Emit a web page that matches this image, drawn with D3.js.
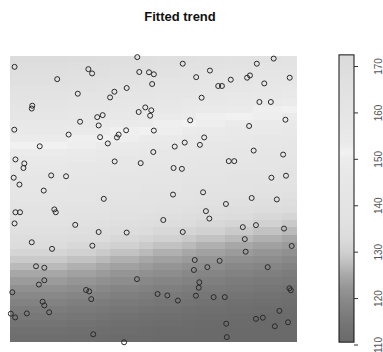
<!DOCTYPE html>
<html>
<head>
<meta charset="utf-8">
<script src="https://cdn.jsdelivr.net/npm/d3@7/dist/d3.min.js"></script>
<style>
  html, body { margin: 0; padding: 0; background: #ffffff; }
  svg { display: block; }
  text { font-family: "Liberation Sans", Arial, Helvetica, sans-serif; }
</style>
</head>
<body>
<div id="chart"></div>
<script>
// Fitted trend surface, rows run north (top) to south (bottom), 20 columns west to east.
const trendRows = [
  [170.4,170.4,170.4,170.4,169.7,169.7,169.1,168.4,168.4,167.7,167.0,167.0,166.3,165.6,165.6,164.8,164.8,163.9,163.9,163.1],
  [169.1,169.1,169.1,169.1,168.4,168.4,167.7,167.0,167.0,166.3,165.6,165.6,164.8,163.9,163.9,163.1,163.1,162.2,162.2,161.4],
  [167.7,167.7,167.7,167.7,167.0,167.0,166.3,165.6,165.6,164.8,163.9,163.9,163.1,162.2,162.2,161.4,161.4,160.6,160.6,159.8],
  [166.3,166.3,166.3,166.3,165.6,165.6,164.8,163.9,163.9,163.1,162.2,162.2,161.4,160.6,160.6,159.8,159.8,158.9,158.9,158.1],
  [164.8,164.8,164.8,164.8,163.9,163.9,163.1,162.2,162.2,161.4,160.6,160.6,159.8,158.9,158.9,158.1,158.1,157.3,157.3,156.4],
  [163.1,163.1,163.1,163.1,162.2,162.2,161.4,160.6,160.6,159.8,158.9,158.9,158.1,157.3,157.3,156.4,156.4,155.6,155.6,154.8],
  [161.4,161.4,161.4,161.4,160.6,160.6,159.8,158.9,158.9,158.1,157.3,157.3,156.4,155.6,155.6,154.8,154.8,153.9,153.9,153.0],
  [159.8,159.8,159.8,159.8,158.9,158.9,158.1,157.3,157.3,156.4,155.6,155.6,154.8,153.9,153.9,153.0,153.0,152.1,152.1,151.3],
  [158.1,158.1,158.1,158.1,157.3,157.3,156.4,155.6,155.6,154.8,153.9,153.9,153.0,152.1,152.1,151.3,151.3,150.4,150.4,149.6],
  [156.4,156.4,156.4,156.4,155.6,155.6,154.8,153.9,153.9,153.0,152.1,152.1,151.3,150.4,150.4,149.6,149.6,148.8,148.8,148.1],
  [154.8,154.8,154.8,154.8,153.9,153.9,153.0,152.1,152.1,151.3,150.4,150.4,149.6,148.8,148.8,148.1,148.1,147.4,147.4,146.7],
  [153.0,153.0,153.0,153.0,152.1,152.1,151.3,150.4,150.4,149.6,148.8,148.8,148.1,147.4,147.4,146.7,146.7,146.0,146.0,145.4],
  [151.3,151.3,151.3,151.3,150.4,150.4,149.6,148.8,148.8,148.1,147.4,147.4,146.7,146.0,146.0,145.4,145.4,144.8,144.8,144.2],
  [149.6,149.6,149.6,149.6,148.8,148.8,148.1,147.4,147.4,146.7,146.0,146.0,145.4,144.8,144.8,144.2,144.2,143.6,143.6,143.0],
  [148.1,148.1,148.1,148.1,147.4,147.4,146.7,146.0,146.0,145.4,144.8,144.8,144.2,143.6,143.6,143.0,143.0,142.4,142.4,141.8],
  [146.7,146.7,146.7,146.7,146.0,146.0,145.4,144.8,144.8,144.2,143.6,143.6,143.0,142.4,142.4,141.8,141.8,141.2,141.2,140.6],
  [145.4,145.4,145.4,145.4,144.8,144.8,144.2,143.6,143.6,143.0,142.4,142.4,141.8,141.2,141.2,140.6,140.6,140.0,140.0,139.4],
  [144.2,144.2,144.2,144.2,143.6,143.6,143.0,142.4,142.4,141.8,141.2,141.2,140.6,140.0,140.0,139.4,139.4,138.8,138.8,138.2],
  [143.0,143.0,143.0,143.0,142.4,142.4,141.8,141.2,141.2,140.6,140.0,140.0,139.4,138.8,138.8,138.2,138.2,137.6,137.6,137.0],
  [141.8,141.8,141.8,141.8,141.2,141.2,140.6,140.0,140.0,139.4,138.8,138.8,138.2,137.6,137.6,137.0,137.0,136.4,136.4,135.8],
  [140.6,140.6,140.6,140.6,140.0,140.0,139.4,138.8,138.8,138.2,137.6,137.6,137.0,136.4,136.4,135.8,135.8,135.1,135.1,134.4],
  [139.4,139.4,139.4,139.4,138.8,138.8,138.2,137.6,137.6,137.0,136.4,136.4,135.8,135.1,135.1,134.4,134.4,133.7,133.7,133.0],
  [138.2,138.2,138.2,138.2,137.6,137.6,137.0,136.4,136.4,135.8,135.1,135.1,134.4,133.7,133.7,133.0,133.0,132.1,132.1,131.2],
  [137.0,137.0,137.0,137.0,136.4,136.4,135.8,135.1,135.1,134.4,133.7,133.7,133.0,132.1,132.1,131.2,131.2,130.2,130.2,129.2],
  [135.8,135.8,135.8,135.8,135.1,135.1,134.4,133.7,133.7,133.0,132.1,132.1,131.2,130.2,130.2,129.2,129.2,128.1,128.1,127.0],
  [134.4,134.4,134.4,134.4,133.7,133.7,133.0,132.1,132.1,131.2,130.2,130.2,129.2,128.1,128.1,127.0,127.0,125.9,125.9,124.9],
  [133.0,133.0,133.0,133.0,132.1,132.1,131.2,130.2,130.2,129.2,128.1,128.1,127.0,125.9,125.9,124.9,124.9,123.9,123.9,123.0],
  [131.2,131.2,131.2,131.2,130.2,130.2,129.2,128.1,128.1,127.0,125.9,125.9,124.9,123.9,123.9,123.0,123.0,122.1,122.1,121.2],
  [129.2,129.2,129.2,129.2,128.1,128.1,127.0,125.9,125.9,124.9,123.9,123.9,123.0,122.1,122.1,121.2,121.2,120.4,120.4,119.5],
  [127.0,127.0,127.0,127.0,125.9,125.9,124.9,123.9,123.9,123.0,122.1,122.1,121.2,120.4,120.4,119.5,119.5,118.7,118.7,118.0],
  [124.9,124.9,124.9,124.9,123.9,123.9,123.0,122.1,122.1,121.2,120.4,120.4,119.5,118.7,118.7,118.0,118.0,117.3,117.3,116.6],
  [123.0,123.0,123.0,123.0,122.1,122.1,121.2,120.4,120.4,119.5,118.7,118.7,118.0,117.3,117.3,116.6,116.6,115.9,115.9,115.3],
  [121.2,121.2,121.2,121.2,120.4,120.4,119.5,118.7,118.7,118.0,117.3,117.3,116.6,115.9,115.9,115.3,115.3,114.7,114.7,114.2],
  [119.5,119.5,119.5,119.5,118.7,118.7,118.0,117.3,117.3,116.6,115.9,115.9,115.3,114.7,114.7,114.2,114.2,113.6,113.6,113.1],
  [118.0,118.0,118.0,118.0,117.3,117.3,116.6,115.9,115.9,115.3,114.7,114.7,114.2,113.6,113.6,113.1,113.1,112.6,112.6,112.1],
  [116.6,116.6,116.6,116.6,115.9,115.9,115.3,114.7,114.7,114.2,113.6,113.6,113.1,112.6,112.6,112.1,112.1,111.6,111.6,111.2],
  [115.3,115.3,115.3,115.3,114.7,114.7,114.2,113.6,113.6,113.1,112.6,112.6,112.1,111.6,111.6,111.2,111.2,111.0,111.0,110.8],
  [114.2,114.2,114.2,114.2,113.6,113.6,113.1,112.6,112.6,112.1,111.6,111.6,111.2,111.0,111.0,110.8,110.8,110.6,110.6,110.6],
  [113.1,113.1,113.1,113.1,112.6,112.6,112.1,111.6,111.6,111.2,111.0,111.0,110.8,110.6,110.6,110.6,110.6,110.6,110.6,110.6],
  [112.1,112.1,112.1,112.1,111.6,111.6,111.2,111.0,111.0,110.8,110.6,110.6,110.6,110.6,110.6,110.6,110.6,110.6,110.6,110.6]
];

// Sample locations (easting, northing) in 0-100 map units.
const siteX = [
  1.6,44.5,27.4,28.7,16.5,45.2,48.6,50.3,49.7,40.8,36.5,35.0,23.7,7.8,7.6,45.0,47.3,49.4,49.0,32.4,
  30.5,24.5,31.0,1.5,20.5,40.6,50.3,38.0,37.4,31.5,34.2,10.4,50.1,1.9,5.0,4.7,36.6,45.7,1.3,14.4,
  19.6,3.3,11.8,32.8,60.4,69.9,65.1,77.2,72.8,74.1,86.3,92.2,82.9,83.9,88.9,97.8,67.0,87.2,91.2,63.0,
  96.3,83.6,57.6,61.1,67.9,66.4,85.2,95.5,76.5,78.4,57.2,60.1,91.4,96.5,57.0,67.5,84.5,93.3,1.9,3.5,
  15.5,16.0,1.6,22.8,31.0,40.8,7.6,14.7,28.8,9.1,12.0,12.0,10.1,44.4,0.8,26.6,27.7,51.6,28.4,11.4,
  12.0,0.3,1.8,5.9,13.7,29.1,39.9,53.6,68.5,69.7,75.5,60.4,81.4,86.0,95.8,82.1,82.4,98.5,64.6,73.3,
  64.3,69.0,90.1,66.2,66.0,55.0,65.0,71.2,75.1,58.7,97.7,98.2,94.2,86.0,88.4,97.2,92.6,75.6,75.8
];
const siteY = [
  96.2,99.6,95.4,93.9,91.9,94.4,94.3,93.6,90.2,88.8,87.5,85.5,86.8,82.6,81.6,80.4,82.0,81.0,79.1,79.3,
  78.6,77.0,75.7,74.2,72.5,74.0,73.9,72.5,71.5,71.6,69.4,68.4,66.4,63.8,62.4,60.8,63.1,62.5,57.4,58.2,
  57.9,55.0,52.9,50.0,97.3,94.9,92.6,91.7,89.5,89.5,97.3,99.1,92.4,93.2,90.4,92.4,85.4,83.9,83.9,77.5,
  77.7,75.5,68.3,69.7,71.5,68.9,66.9,65.5,63.2,63.2,60.8,60.5,57.4,58.1,51.5,52.3,50.3,49.8,45.3,45.3,
  46.3,45.3,41.4,40.9,38.4,38.2,34.8,32.5,33.6,26.4,25.9,21.5,20.0,21.9,17.3,18.1,17.6,16.7,14.9,14.0,
  12.7,9.8,8.5,9.9,10.3,2.6,-0.2,42.6,45.7,43.1,48.2,38.4,40.1,40.8,39.6,35.9,31.5,33.5,28.6,28.3,
  25.1,26.1,26.1,20.8,18.9,16.2,16.1,15.6,15.6,14.4,18.7,18.0,10.8,8.0,8.4,6.8,5.4,6.3,1.6
];

const legendTicks = [110, 120, 130, 140, 150, 160, 170];
const legendRange = [110.5, 172.4];
const chartTitle = "Fitted trend";

const W = 383, H = 352;
const svg = d3.select("#chart").append("svg")
  .attr("width", W).attr("height", H)
  .attr("viewBox", `0 0 ${W} ${H}`);

svg.append("rect").attr("width", W).attr("height", H).attr("fill", "#ffffff");

// Plot region
const x = d3.scaleLinear().domain([0, 100]).range([10, 296]);
const y = d3.scaleLinear().domain([0, 100]).range([341.7, 56]);

// Grey ramp for the fitted values (bright ridge near 151.5)
const grey = d3.scaleLinear()
  .domain([110.5, 113, 116, 119, 122, 125, 127.5, 130, 133, 137, 142, 147, 150, 151.5, 153, 157, 163, 168, 172.4])
  .range([106, 112, 122, 134, 148, 168, 190, 208, 220, 226, 229, 232, 236, 242, 235, 231, 227, 223, 218])
  .clamp(true);
const fillFor = v => { const g = Math.round(grey(v)); return `rgb(${g},${g},${g})`; };

const nRows = trendRows.length, nCols = trendRows[0].length;
const cellW = 100 / nCols, cellH = 100 / nRows;
const cells = [];
trendRows.forEach((row, r) => row.forEach((v, c) => cells.push({ r, c, v })));

svg.append("g").attr("class", "surface")
  .attr("shape-rendering", "crispEdges")
  .selectAll("rect").data(cells).join("rect")
  .attr("x", d => x(d.c * cellW))
  .attr("y", d => y(100 - d.r * cellH))
  .attr("width", d => x((d.c + 1) * cellW) - x(d.c * cellW) + 0.5)
  .attr("height", d => y(100 - (d.r + 1) * cellH) - y(100 - d.r * cellH) + 0.5)
  .attr("fill", d => fillFor(d.v));

// Sample locations
svg.append("g").attr("class", "sites")
  .selectAll("circle").data(siteX.map((sx, i) => [sx, siteY[i]])).join("circle")
  .attr("cx", d => x(d[0]))
  .attr("cy", d => y(d[1]))
  .attr("r", 2.5)
  .attr("fill", "none")
  .attr("stroke", "#2a2a2a")
  .attr("stroke-width", 1);

// Title
svg.append("text")
  .attr("x", 180).attr("y", 21)
  .attr("text-anchor", "middle")
  .attr("font-size", 13).attr("font-weight", "bold")
  .attr("fill", "#111")
  .text(chartTitle);

// Colour legend
const ly = d3.scaleLinear().domain([110, 170]).range([344.5, 66]);
const lx0 = 339, lx1 = 354;
const steps = d3.range(legendRange[0], legendRange[1], 0.1);
const legend = svg.append("g").attr("class", "legend");
legend.append("g").attr("shape-rendering", "crispEdges")
  .selectAll("rect").data(steps).join("rect")
  .attr("x", lx0)
  .attr("y", d => ly(Math.min(d + 0.1, legendRange[1])))
  .attr("width", lx1 - lx0)
  .attr("height", d => ly(d) - ly(Math.min(d + 0.1, legendRange[1])) + 0.3)
  .attr("fill", d => fillFor(d + 0.05));
legend.append("rect")
  .attr("x", lx0).attr("y", ly(legendRange[1]))
  .attr("width", lx1 - lx0)
  .attr("height", ly(legendRange[0]) - ly(legendRange[1]))
  .attr("fill", "none").attr("stroke", "#111").attr("stroke-width", 1);

const axis = d3.axisRight(ly).tickValues(legendTicks).tickSize(4).tickPadding(0).tickFormat(d3.format("d"));
const ax = legend.append("g").attr("transform", `translate(${lx1},0)`).call(axis);
ax.select(".domain").remove();
ax.selectAll(".tick line").attr("stroke", "#333");
ax.selectAll(".tick text")
  .attr("x", 0).attr("y", 0).attr("dy", null)
  .attr("transform", "translate(28,0) rotate(-90)")
  .attr("text-anchor", "middle")
  .attr("dominant-baseline", "auto")
  .attr("font-size", 10)
  .attr("fill", "#555");
</script>
</body>
</html>
